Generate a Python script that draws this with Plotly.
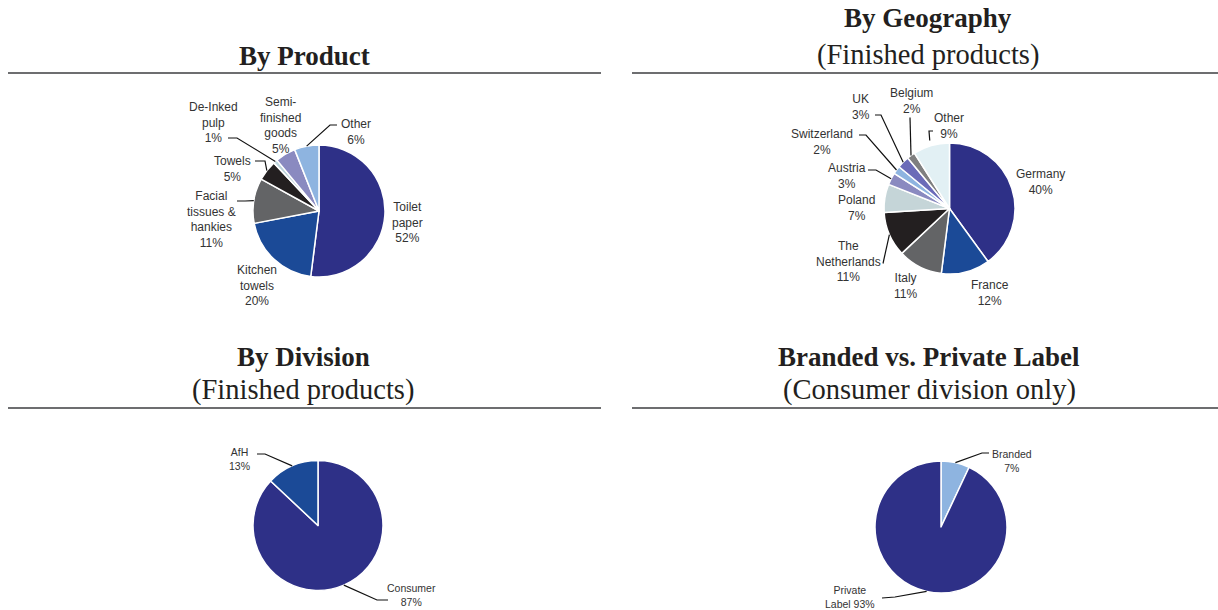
import math
import plotly.graph_objects as go

W, H = 1218, 610

# ---------------- data ----------------
product_labels = ["Toilet<br>paper", "Kitchen<br>towels", "Facial<br>tissues &<br>hankies", "Towels",
                  "De-Inked<br>pulp", "Semi-<br>finished<br>goods", "Other"]
product_values = [52, 20, 11, 5, 1, 5, 6]

geo_labels = ["Germany", "France", "Italy", "The<br>Netherlands", "Poland", "Austria",
              "Switzerland", "UK", "Belgium", "Other"]
geo_values = [40, 12, 11, 11, 7, 3, 2, 3, 2, 9]

division_labels = ["Consumer", "AfH"]
division_values = [87, 13]

brand_labels = ["Branded", "Private<br>Label"]
brand_values = [7, 93]

titles = [("By Product", None), ("By Geography", "(Finished products)"),
          ("By Division", "(Finished products)"), ("Branded vs. Private Label", "(Consumer division only)")]

# ---------------- styling ----------------
NAVY = "#2E3087"
BLUE = "#1B4A97"
GRAY = "#636466"
BLACK = "#231F20"
LAV = "#8A8AC0"
LBLUE = "#8EB4E0"

product_colors = [NAVY, BLUE, GRAY, BLACK, "#BCD3DB", LAV, LBLUE]
geo_colors = [NAVY, BLUE, GRAY, BLACK, "#C5D5D8", LAV, LBLUE, "#6B6BB8", "#7F7F80", "#E2F0F4"]
division_colors = [NAVY, BLUE]
brand_colors = [LBLUE, NAVY]

TXT = "#333333"

# label layout (pixel offsets relative to pie centre); leader: list of points then edge
product_layout = [
    dict(pos=(88, 11)),
    dict(pos=(-62, 74)),
    dict(pos=(-108, 8.5), lead=[(-82, -10), (-74, -10)]),
    dict(pos=(-87, -42.5), lead=[(-64, -50), (-54, -50)]),
    dict(pos=(-106, -88), lead=[(-91, -73), (-82, -73)]),
    dict(pos=(-39, -86)),
    dict(pos=(37, -79.5), lead=[(18, -86), (11, -86)]),
]
geo_layout = [
    dict(pos=(90.5, -27)),
    dict(pos=(40.5, 84)),
    dict(pos=(-44.5, 77)),
    dict(pos=(-101.5, 53), lead=[(-66.5, 55)]),
    dict(pos=(-93.5, 0)),
    dict(pos=(-102.5, -32), lead=[(-81.5, -38.5), (-73.5, -38.5)]),
    dict(pos=(-127.5, -66.5), lead=[(-90.5, -73.5), (-83.5, -73.5)]),
    dict(pos=(-88.5, -101.5), lead=[(-74.5, -93.5), (-68.5, -93.5)]),
    dict(pos=(-38.5, -107.5), lead=[(-39.5, -91)]),
    dict(pos=(-0.5, -82.5), lead=[(-16.5, -77.5), (-20.5, -77.5)], rf=1.08),
]
division_layout = [
    dict(pos=(94, 69.5), lead=[(70, 74.5), (59, 74.5)]),
    dict(pos=(-79, -66.5), lead=[(-61, -71.5), (-53, -71.5)]),
]
brand_layout = [
    dict(pos=(71, -66), lead=[(48, -74), (41, -74)]),
    dict(pos=(-91, 70), lead=[(-59, 71), (-46, 70)], sep=" "),
]

pies = [
    dict(labels=product_labels, values=product_values, colors=product_colors, lay=product_layout,
         c=(319, 211), r=66, fs=12),
    dict(labels=geo_labels, values=geo_values, colors=geo_colors, lay=geo_layout,
         c=(949.5, 208.5), r=65.5, fs=12),
    dict(labels=division_labels, values=division_values, colors=division_colors, lay=division_layout,
         c=(318, 525.5), r=65, fs=10.5),
    dict(labels=brand_labels, values=brand_values, colors=brand_colors, lay=brand_layout,
         c=(941, 527), r=66, fs=10.5),
]


def px(x, y):
    return x / W, 1 - y / H


fig = go.Figure()
annotations = []
shapes = []

for p in pies:
    cx, cy = p["c"]
    r = p["r"]
    fig.add_trace(go.Pie(
        labels=p["labels"], values=p["values"], sort=False, direction="clockwise", rotation=0,
        marker=dict(colors=p["colors"], line=dict(color="white", width=1.5)),
        textinfo="none", hoverinfo="label+percent", showlegend=False,
        domain=dict(x=[(cx - r) / W, (cx + r) / W], y=[1 - (cy + r) / H, 1 - (cy - r) / H]),
    ))
    total = sum(p["values"])
    cum = 0
    for lab, val, lay in zip(p["labels"], p["values"], p["lay"]):
        mid = (cum + val / 2) / total * 2 * math.pi
        cum += val
        sep = lay.get("sep", "<br>")
        x, y = px(cx + lay["pos"][0], cy + lay["pos"][1])
        annotations.append(dict(x=x, y=y, xref="paper", yref="paper", text=f"{lab}{sep}{val}%",
                                showarrow=False, xanchor="center", yanchor="middle",
                                font=dict(family="Liberation Sans, Arial", size=p["fs"], color=TXT)))
        if "lead" in lay:
            rf = lay.get("rf", 1.0)
            ex = cx + r * rf * math.sin(mid)
            ey = cy - r * rf * math.cos(mid)
            pts = [(cx + dx, cy + dy) for dx, dy in lay["lead"]] + [(ex, ey)]
            path = "M " + " L ".join(f"{px(a, b)[0]:.5f},{px(a, b)[1]:.5f}" for a, b in pts)
            shapes.append(dict(type="path", path=path, xref="paper", yref="paper",
                               line=dict(color="#111111", width=1.2)))

# titles and rules
title_specs = [
    dict(t=titles[0], x=304, y1=56, y2=None, rule=(8, 601, 73)),
    dict(t=titles[1], x=928, y1=18, y2=55, rule=(632, 1218, 73)),
    dict(t=titles[2], x=303, y1=357, y2=390, rule=(8, 601, 408)),
    dict(t=titles[3], x=929, y1=357, y2=390, rule=(632, 1218, 408)),
]
for ts in title_specs:
    bold, sub = ts["t"]
    x, y = px(ts["x"], ts["y1"])
    annotations.append(dict(x=x, y=y, xref="paper", yref="paper", text=f"<b>{bold}</b>", showarrow=False,
                            xanchor="center", yanchor="middle",
                            font=dict(family="Liberation Serif, Times New Roman", size=27, color="#231F20")))
    if sub:
        x, y = px(ts["x"], ts["y2"])
        annotations.append(dict(x=x, y=y, xref="paper", yref="paper", text=sub, showarrow=False,
                                xanchor="center", yanchor="middle",
                                font=dict(family="Liberation Serif, Times New Roman", size=28.5, color="#231F20")))
    x0, x1, yr = ts["rule"]
    shapes.append(dict(type="line", xref="paper", yref="paper", x0=x0 / W, x1=x1 / W,
                       y0=1 - yr / H, y1=1 - yr / H, line=dict(color="#6D6E70", width=2)))

fig.update_layout(width=W, height=H, margin=dict(l=0, r=0, t=0, b=0),
                  paper_bgcolor="white", plot_bgcolor="white",
                  annotations=annotations, shapes=shapes)

fig.write_html("out.html", config={"displayModeBar": False},
               post_script="document.body.style.margin='0px';")
